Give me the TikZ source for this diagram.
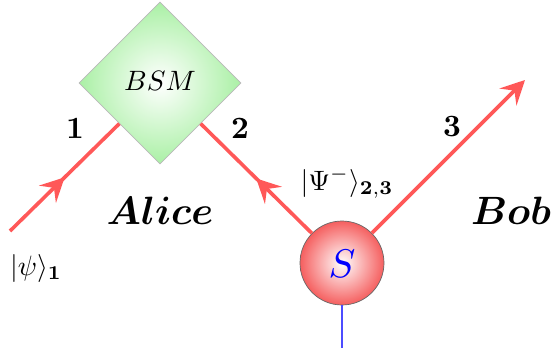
\documentclass[tikz,border=0pt]{standalone}
\usepackage{amsmath,bm}
\usetikzlibrary{shapes.geometric,arrows.meta,decorations.markings,calc}
\definecolor{beam}{RGB}{255,88,88}
\definecolor{boxgreen}{RGB}{170,240,165}
\definecolor{srcred}{RGB}{245,95,95}
\begin{document}
\begin{tikzpicture}[x=1pt,y=-1pt,
  beamline/.style={draw=beam,line width=3.6pt},
  midarrow/.style={postaction={decorate},decoration={markings,mark=at position 0.5 with {\arrow{Stealth[length=24pt,width=24pt,inset=9pt,color=beam]}}}},
  lbl/.style={inner sep=0pt,scale=3.1},
  big/.style={inner sep=0pt,scale=3.95},
  ket/.style={inner sep=0pt,scale=2.8}]
\useasboundingbox (0,0) rectangle (552,354);
\node[diamond,aspect=1,minimum width=162pt,minimum height=162pt,inner sep=0pt,
  draw=gray!55,line width=0.6pt,shading=radial,inner color=white,outer color=boxgreen] (bsm) at (160,83) {};
\node[inner sep=0pt,scale=2.8] (bsmtxt) at (160,81) {$BSM$};
\node[circle,minimum size=84pt,inner sep=0pt,draw=black!60,line width=0.7pt,
  shading=radial,inner color=white,outer color=srcred] (S) at (342,263) {};
\node[inner sep=0pt,scale=4.0,text=blue] (stxt) at (342,264) {$S$};
\coordinate (p1) at ($(bsm.west)!0.5!(bsm.south)$);
\coordinate (p2) at ($(bsm.east)!0.5!(bsm.south)$);
\coordinate (in1) at (10,231);
\coordinate (out3) at (525,80);
\coordinate (tail) at (342,348);
\draw[beamline,midarrow] (in1) -- (p1);
\draw[beamline,midarrow] (S) -- (p2);
\draw[beamline,-{Stealth[length=24pt,width=24pt,inset=9pt]}] (S) -- (out3);
\draw[blue!70,line width=1.5pt] (S.south) -- (tail);
\node[lbl] (n1) at (75,129) {$\mathbf{1}$};
\node[lbl] (n2) at (240,129) {$\mathbf{2}$};
\node[lbl] (n3) at (452,127) {$\mathbf{3}$};
\node[big] (alice) at (160,211) {$\bm{Alice}$};
\node[big] (bob) at (511,211) {$\bm{Bob}$};
\node[ket] (psi) at (36,268) {$|\psi\rangle_{\mathbf{1}}$};
\node[ket] (Psi) at (347,183) {$|\Psi^-\rangle_{\mathbf{2,3}}$};
\end{tikzpicture}
\end{document}
